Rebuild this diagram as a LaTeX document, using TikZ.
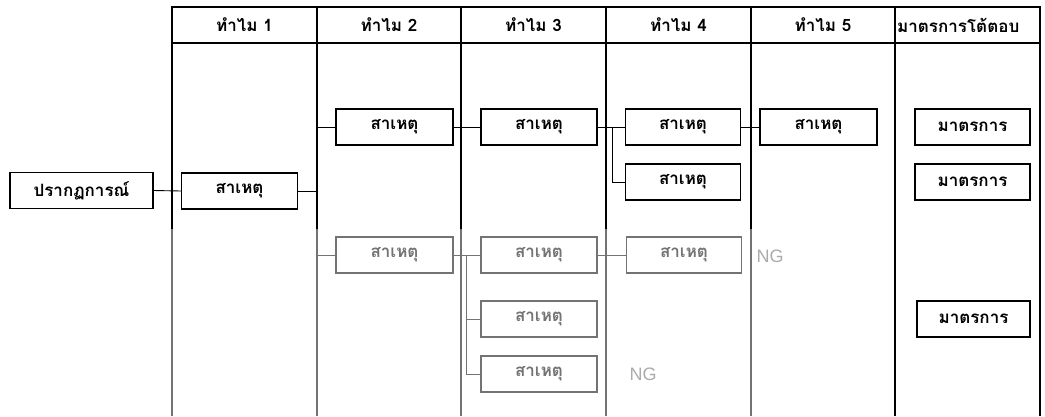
\documentclass[tikz,border=0pt]{standalone}
\usepackage{fontspec}
\newfontfamily\thaifont[Script=Thai]{Loma}
\newfontfamily\latinsans{Liberation Sans}
\begin{document}
\begin{tikzpicture}[x=1pt,y=-1pt,
  box/.style={draw, line width=1.2pt, minimum height=36pt, minimum width=116pt, inner sep=0pt, font=\thaifont\bfseries\fontsize{17}{19}\selectfont},
  head/.style={font=\thaifont\bfseries\fontsize{17}{19}\selectfont, inner sep=0pt},
  grid/.style={line width=1.2pt},
  conn/.style={line width=0.9pt},
  ng/.style={font=\latinsans\fontsize{18}{20}\selectfont, text=black!60, inner sep=0pt}]
\useasboundingbox (0,0) rectangle (1045,416);
% table
\draw[grid] (172,416) -- (172,7) -- (1040,7) -- (1040,416);
\draw[grid] (172,43) -- (1040,43);
\foreach \x in {317,461,606,751,895} \draw[grid] (\x,7) -- (\x,416);
% headers
\node[head] (h1) at (244.5,25) {ทำไม 1};
\node[head] (h2) at (389,25) {ทำไม 2};
\node[head] (h3) at (533.5,25) {ทำไม 3};
\node[head] (h4) at (678.5,25) {ทำไม 4};
\node[head] (h5) at (823,25) {ทำไม 5};
\begin{scope}
\clip (895,7) rectangle (1040,43);
\node[head, anchor=west] (h6) at (897,25) {มาตรการโต้ตอบ};
\end{scope}
% boxes
\node[box, minimum width=143pt] (p) at (81.5,190.5) {ปรากฏการณ์};
\node[box] (c1) at (239.5,191) {สาเหตุ};
\node[box, minimum width=117pt] (c2a) at (394.5,127) {สาเหตุ};
\node[box, minimum width=117pt] (c2b) at (394.5,255) {สาเหตุ};
\node[box] (c3a) at (539,127) {สาเหตุ};
\node[box] (c3b) at (539,255) {สาเหตุ};
\node[box] (c3c) at (539,319) {สาเหตุ};
\node[box] (c3d) at (539,374) {สาเหตุ};
\node[box, minimum width=115pt] (c4a) at (683,127) {สาเหตุ};
\node[box, minimum width=115pt] (c4b) at (683,182) {สาเหตุ};
\node[box, minimum width=115pt] (c4c) at (684,255) {สาเหตุ};
\node[box, minimum width=117pt] (c5a) at (818.5,127) {สาเหตุ};
\node[box, minimum width=115pt] (m1) at (972.5,127) {มาตรการ};
\node[box, minimum width=115pt] (m2) at (972.5,182) {มาตรการ};
\node[box, minimum width=113pt] (m3) at (973.5,319) {มาตรการ};
\node[ng] (ng1) at (770,256) {NG};
\node[ng] (ng2) at (643,374) {NG};
% junctions
\coordinate (j1) at (317,191);
\coordinate (j3) at (612,127);
\coordinate (j2) at (466,255);
% connectors
\draw[conn] (p.east) -- (c1.west);
\draw[conn] (c1.east) -- (j1);
\draw[conn] (c2a.west -| j1) -- (c2a.west);
\draw[conn] (c2b.west -| j1) -- (c2b.west);
\draw[conn] (c2a.east) -- (c3a.west);
\draw[conn] (c3a.east) -- (c4a.west);
\draw[conn] (j3) |- (c4b.west);
\draw[conn] (c4a.east) -- (c5a.west);
\draw[conn] (c2b.east) -- (c3b.west);
\draw[conn] (j2) |- (c3c.west);
\draw[conn] (j2) |- (c3d.west);
\draw[conn] (c3b.east) -- (c4c.west);
% faded lower region (as in the reference)
\fill[white, opacity=0.45] (160,229) rectangle (812,416);
\end{tikzpicture}
\end{document}
